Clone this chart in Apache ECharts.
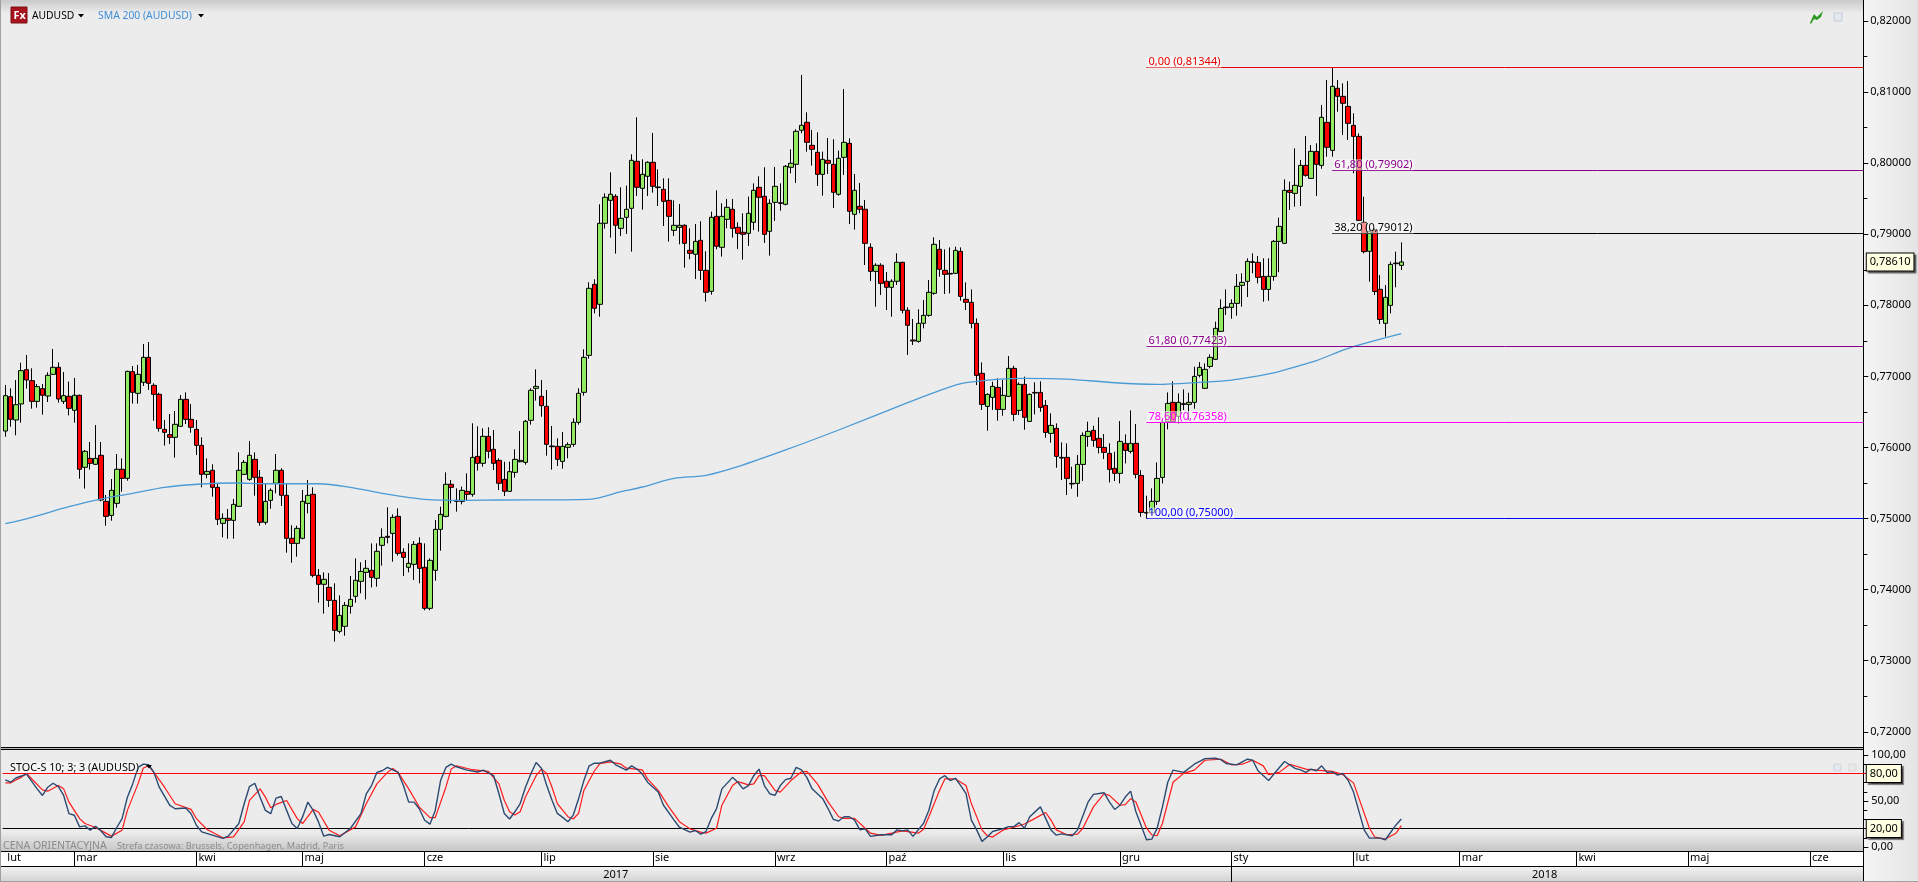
<!DOCTYPE html>
<html><head><meta charset="utf-8">
<script src="https://cdn.jsdelivr.net/npm/echarts@6/dist/echarts.min.js"></script>
<style>
html,body{margin:0;padding:0;width:1918px;height:882px;overflow:hidden;background:#ececec}
#stage{position:absolute;left:0;top:0;width:1918px;height:882px;
background:
 linear-gradient(#c9c9c9,#ececec) 0 0/1863px 13px no-repeat,
 linear-gradient(#ececec,#c6c6c6) 0 832px/1863px 19px no-repeat,
 linear-gradient(#f3f3f3,#d2d2d2) 0 866px/1863px 16px no-repeat,
 linear-gradient(90deg,#f5f5f5,#e4e4e4) 1864px 0/54px 882px no-repeat,
 #ececec}
.b{position:absolute;background:#000}
#chart{position:absolute;left:0;top:0;width:1918px;height:882px}
</style></head><body>
<div id="stage">
<div style="position:absolute;left:0;top:851px;width:1863px;height:15px;background:#fff"></div>
<div style="position:absolute;left:0;top:747px;width:1863px;height:3px;background:#bbb"></div>
<div class="b" style="left:0;top:747px;width:1863px;height:1px"></div>
<div class="b" style="left:0;top:749px;width:1863px;height:1px"></div>
<div class="b" style="left:0;top:851px;width:1863px;height:1px"></div>
<div class="b" style="left:0;top:866px;width:1863px;height:1px"></div>
<div class="b" style="left:1863px;top:0;width:1px;height:882px"></div>
<div style="position:absolute;left:0;top:0;width:1px;height:882px;background:#a0a0a0"></div>
<div style="position:absolute;left:0;top:881px;width:1918px;height:1px;background:#a0a0a0"></div>
<div id="chart"></div>
</div>
<script>
const monthNames = ['sty','lut','mar','kwi','maj','cze','lip','sie','wrz','paź','lis','gru'];
const categories = [];
for (let t = Date.UTC(2017,1,10); categories.length < 351; t += 86400000) {
  const d = new Date(t);
  if (d.getUTCDay() !== 0 && d.getUTCDay() !== 6) categories.push(d.toISOString().slice(0,10));
}
const opens = [.76232,.76715,.76387,.76612,.77095,.76940,.76649,.76828,.76724,.77029,
.77128,.76649,.76720,.76523,.76734,.75721,.75847,.75763,.75890,.75242,
.75045,.75214,.75693,.75566,.77067,.76762,.76917,.77268,.76874,.76748,
.76255,.76180,.76143,.76298,.76677,.76396,.76255,.76030,.75622,.75679,
.75439,.74933,.75003,.74975,.75172,.75622,.75552,.75833,.75580,.74947,
.75256,.75496,.75679,.75327,.74722,.74651,.74722,.75214,.75341,.74201,
.74075,.74032,.73849,.73413,.73484,.73765,.73906,.74117,.74243,.74272,
.74159,.74623,.74750,.74792,.75031,.74525,.74314,.74356,.74651,.74314,
.73737,.74272,.74848,.75031,.75482,.75256,.75242,.75383,.75341,.75875,
.75777,.76157,.75974,.75819,.75552,.75383,.75650,.75800,.75791,.76382,
.76832,.76720,.76579,.76021,.76016,.75805,.76002,.76044,.76354,.76776,
.77296,.78295,.78014,.79154,.79477,.79534,.79083,.79238,.79365,.80026,
.79646,.79815,.80012,.79665,.79632,.79477,.79055,.79097,.79126,.78774,
.78718,.78915,.78492,.78197,.79252,.78816,.79210,.79351,.79097,.79027,
.79013,.79168,.79660,.79534,.79041,.79449,.79444,.79421,.79942,.79984,
.80462,.80575,.80251,.80153,.79843,.80040,.79984,.79562,.80082,.80279,
.79280,.79393,.79351,.78816,.78478,.78563,.78338,.78253,.78338,.78605,
.77930,.77512,.77493,.77747,.77859,.78169,.78788,.78492,.78450,.78450,
.78759,.78084,.78042,.77746,.77043,.76578,.76705,.76846,.76536,.76719,
.77113,.76522,.76888,.76367,.76775,.76775,.76592,.76198,.76269,.75861,
.75861,.75495,.75495,.75762,.76156,.76241,.76128,.76001,.75917,.75706,
.75636,.76058,.75945,.76058,.75607,.75087,.75082,.75242,.75579,.76363,
.76635,.76438,.76616,.76606,.76635,.77014,.76832,.77141,.77240,.77634,
.77976,.77971,.78027,.78281,.78337,.78614,.78604,.78407,.78224,.78407,
.78900,.78872,.79618,.79575,.79674,.79969,.79786,.80166,.79969,.80574,
.80180,.81053,.80940,.80799,.80532,.80377,.79167,.78759,.79059,.78225,
.77746,.77999,.78595,.78562];
const closes = [.76729,.76396,.76602,.77081,.76949,.76649,.76856,.76734,.77015,.77128,
.76682,.76729,.76551,.76734,.75693,.75946,.75777,.75847,.75261,.75031,
.75397,.75693,.75566,.77071,.76776,.77029,.77268,.76903,.76748,.76269,
.76213,.76143,.76326,.76677,.76396,.76284,.76030,.75622,.75664,.75439,
.74989,.75003,.74975,.75200,.75679,.75791,.75890,.75580,.74947,.75242,
.75397,.75679,.75327,.74722,.74651,.74862,.75242,.75327,.74201,.74075,
.74145,.73849,.73427,.73638,.73779,.73863,.74131,.74257,.74300,.74173,
.74539,.74736,.74736,.75017,.74511,.74454,.74370,.74637,.74300,.73737,
.74412,.74848,.75059,.75482,.75439,.75242,.75397,.75341,.75861,.75777,
.76157,.75946,.75777,.75496,.75383,.75660,.75833,.75819,.76368,.76804,
.76860,.76588,.76044,.76011,.75833,.76016,.76040,.76354,.76762,.77268,
.78239,.77958,.79154,.79520,.79562,.79126,.79224,.79351,.80040,.79660,
.79843,.80012,.79674,.79656,.79463,.79252,.79126,.79126,.78872,.78732,
.78900,.78492,.78183,.79238,.78830,.79252,.79379,.79083,.79013,.78999,
.79294,.79618,.79520,.78999,.79435,.79674,.79435,.79956,.79998,.80448,
.80533,.80293,.80195,.79843,.80054,.79998,.79590,.80068,.80293,.79323,
.79618,.79351,.78872,.78478,.78563,.78309,.78253,.78338,.78605,.77930,
.77719,.77498,.77747,.77859,.78183,.78858,.78506,.78436,.78440,.78773,
.78126,.78042,.77746,.77014,.76606,.76747,.76860,.76536,.76733,.77113,
.76466,.76888,.76424,.76747,.76766,.76564,.76212,.76311,.75875,.75851,
.75565,.75486,.75762,.76170,.76227,.76100,.76001,.75931,.75692,.75636,
.76086,.75959,.76058,.75622,.75087,.75077,.75242,.75565,.76353,.76620,
.76363,.76635,.76606,.76635,.77000,.77127,.77099,.77268,.77676,.77957,
.77967,.78027,.78267,.78323,.78618,.78604,.78393,.78224,.78407,.78900,
.79111,.79618,.79589,.79688,.79969,.79829,.80166,.79983,.80645,.80223,
.81081,.80940,.80842,.80560,.80377,.79195,.78755,.79036,.78196,.77802,
.78112,.78576,.78586,.78610];
const lows = [.76152,.76293,.76171,.76349,.76828,.76546,.76560,.76462,.76640,.77020,
.76631,.76612,.76452,.76349,.75561,.75421,.75688,.75754,.75242,.74900,
.74970,.75153,.75378,.75533,.76617,.76617,.76865,.76809,.76377,.76223,
.76026,.76049,.75857,.76293,.76330,.76208,.75894,.75439,.75566,.75308,
.74909,.74736,.74717,.74717,.75167,.75613,.75533,.75322,.74900,.74914,
.75139,.75355,.75177,.74520,.74379,.74464,.74708,.75073,.74173,.73817,
.73662,.73756,.73268,.73385,.73352,.73662,.73817,.73948,.73863,.74032,
.74042,.74337,.74651,.74393,.74478,.74192,.74243,.74135,.74089,.73709,
.73709,.74126,.74548,.75017,.75214,.75097,.75200,.75261,.75308,.75674,
.75730,.75847,.75683,.75402,.75317,.75374,.75575,.75791,.75758,.76321,
.76659,.76433,.75885,.75688,.75739,.75702,.75847,.76011,.76321,.76729,
.77250,.77887,.77840,.79079,.78952,.78727,.78975,.79004,.78755,.79538,
.79346,.79538,.79585,.79398,.79116,.78896,.78975,.78858,.78530,.78647,
.78370,.78356,.78052,.78150,.78788,.78685,.79083,.78952,.78793,.78642,
.78835,.79060,.79036,.78877,.78699,.79187,.79332,.79407,.79857,.79721,
.80420,.80162,.79965,.79679,.79543,.79848,.79369,.79543,.79834,.79144,
.79065,.79294,.78567,.78342,.77981,.78145,.77934,.77840,.78286,.77887,
.77301,.77442,.77475,.77676,.77840,.78150,.78403,.78159,.78168,.78440,
.78065,.77934,.77676,.76878,.76527,.76236,.76527,.76377,.76447,.76714,
.76372,.76456,.76250,.76358,.76466,.76503,.76137,.76067,.75715,.75542,
.75331,.75420,.75307,.75528,.76011,.76011,.75917,.75837,.75509,.75528,
.75495,.75776,.75917,.75565,.75026,.75000,.75072,.75190,.75495,.76255,
.76353,.76339,.76527,.76386,.76545,.76986,.76822,.77113,.77230,.77624,
.77863,.77812,.77854,.77981,.78117,.78450,.78309,.78051,.78065,.78346,
.78466,.78862,.79341,.79388,.79397,.79810,.79777,.79538,.79922,.80091,
.80091,.80724,.80396,.80326,.79857,.79191,.78731,.78332,.78145,.77737,
.77559,.77887,.78253,.78497];
const highs = [.76879,.76832,.76949,.77193,.77301,.77114,.76893,.76893,.77057,.77386,
.77198,.77062,.76926,.76978,.76745,.75965,.76077,.76316,.76077,.75331,
.75557,.75908,.75847,.77080,.77146,.77161,.77456,.77484,.76903,.76771,
.76387,.76471,.76513,.76738,.76776,.76612,.76387,.76143,.75847,.75763,
.75496,.75073,.75134,.75275,.75932,.75824,.76091,.75932,.75683,.75496,
.75425,.75908,.75707,.75496,.74905,.74900,.75402,.75542,.75439,.74290,
.74243,.74234,.74089,.73920,.73826,.74192,.74440,.74384,.74417,.74651,
.74651,.74862,.75158,.75059,.75144,.74581,.74651,.74684,.74736,.74651,
.74440,.74980,.75167,.75650,.75542,.75425,.75449,.75636,.76340,.76298,
.76269,.76284,.76246,.75847,.75800,.75800,.75974,.76232,.76387,.76832,
.77099,.76949,.76809,.76302,.76129,.76218,.76072,.76410,.76832,.77381,
.78324,.78366,.79421,.79576,.79871,.79562,.79660,.79684,.80125,.80645,
.80054,.80026,.80425,.79913,.79787,.79787,.79477,.79426,.79140,.79083,
.79144,.79182,.78760,.79318,.79618,.79435,.79496,.79496,.79168,.79294,
.79529,.79716,.79815,.79942,.79491,.79946,.79716,.79974,.80195,.80476,
.81240,.80715,.80467,.80434,.80162,.80354,.80336,.80176,.81043,.80350,
.79848,.79721,.79482,.78872,.78591,.78591,.78469,.78366,.78732,.78614,
.77972,.77808,.77944,.78075,.78356,.78957,.78919,.78787,.78815,.78825,
.78815,.78323,.78224,.77816,.77197,.76761,.76925,.76972,.76949,.77286,
.77150,.76916,.76996,.76761,.76916,.76930,.76667,.76480,.76339,.76072,
.76058,.75729,.75894,.76212,.76363,.76306,.76424,.76189,.76058,.75940,
.76372,.76184,.76522,.76330,.75682,.75321,.75425,.75790,.76409,.76775,
.76930,.76761,.76817,.76771,.77136,.77202,.77183,.77310,.77770,.78084,
.78224,.78084,.78440,.78450,.78661,.78731,.78693,.78661,.78661,.78919,
.79233,.79772,.79739,.80208,.80044,.80382,.80255,.80279,.80818,.81170,
.81344,.81170,.81123,.81156,.80701,.80419,.79528,.79106,.79083,.78426,
.78286,.78614,.78755,.78886];
const smaIdx = [0,5,12,18,24,30,37,43,49,59,65,71,79,87,93,110,116,120,126,132,138,147,157,170,176,181,192,200,209,217,225,231,238,244,247,253,263];
const smaVal = [.74928,.75018,.75167,.75275,.75355,.7544,.75486,.755,.7549,.7549,.7544,.75355,.75271,.75257,.75261,.75271,.75378,.75444,.75566,.75608,.7573,.75965,.76246,.7663,.768,.76911,.76973,.76963,.76911,.76889,.76917,.76949,.77034,.77156,.77221,.77395,.77601];
const kIdx = [0,1,2,4,6,7,8,9,10,11,12,13,14,15,16,17,18,19,20,21,22,23,24,25,26,27,28,29,31,32,34,35,36,37,39,41,42,44,45,46,47,48,49,50,51,52,53,54,55,56,57,58,59,60,61,63,65,67,68,69,70,71,72,74,75,76,77,78,79,80,81,82,83,84,85,87,89,90,92,93,94,95,96,97,98,99,100,101,102,103,104,105,106,107,108,109,110,111,112,114,115,117,118,119,120,121,123,124,126,127,129,130,131,132,133,134,135,137,138,139,140,141,142,143,144,145,146,147,148,149,150,151,152,154,155,156,157,158,159,160,161,162,163,165,167,168,169,170,171,173,174,175,176,177,178,179,180,181,182,183,184,185,186,188,189,190,191,192,193,195,196,197,198,199,201,202,204,205,207,208,209,210,211,212,213,215,216,217,218,219,220,222,224,226,228,229,230,232,234,235,236,238,239,241,243,244,245,246,247,248,249,250,251,252,253,254,256,257,259,260,262,263];
const kVal = [72.9,70.4,75,79.3,63.2,56,65,69.3,65.7,56,36.2,34.5,21.9,23,18.3,22.6,17.6,11.1,10.4,21.2,30.9,54.2,68.6,86.5,90.1,89.4,81.1,65,45.2,41.6,42.4,36.2,23.7,16.5,12.9,9.3,11.8,25.5,47,65.7,69.3,54.2,39.8,36.2,53.1,54.9,39.8,25.5,20.1,32.7,48.8,39.8,27.3,11.8,13.6,11.1,20.1,36.2,57.8,66.8,81.1,82.9,86.5,81.1,66.8,48.8,48.8,41.6,29.1,24.8,39.8,72.2,86.5,90.1,87.2,83.6,81.5,83.6,77.5,57.9,36.5,30.4,38.3,47.2,65,79.3,91.8,85.7,66.8,50.7,36.5,32.2,27.5,34.7,52.5,72.2,88.2,91.1,91.1,94.3,89.3,83.6,88.2,84.7,79.3,70.4,59.7,45.4,29.3,21.5,16.1,17.9,14,16.8,31.1,41.8,63.2,75.7,70.4,63.2,66.8,77.5,84.7,66.8,57.9,56.1,66.8,73.2,74.7,86.5,83.9,75.7,63.2,52.5,41.8,30,28.3,32.9,32.9,29.3,18.6,19.7,11.5,13.3,13.3,18.6,17.5,18.6,11.5,25.8,40,61.5,74,77.5,72.2,74.7,66.8,57.9,29.3,18.6,6.1,10.8,16.8,20,22.2,22.2,26.5,20.4,32.9,43.6,31.1,18.6,12.9,14.3,12.2,18.6,49,57.2,59,49,40.8,45.4,54.3,60.7,38.3,7.9,8.6,20.4,43.6,70.4,83.6,81.1,90,96.1,96.5,95,90.7,89.3,95.4,94.3,82.9,72.2,79.3,92.9,85.4,83.9,81.1,84.7,82.9,88.2,81.1,81.8,78.2,80,72.2,59.7,18.6,9.7,9.7,7.9,24,30.4];
const dIdx = [0,1,2,3,4,5,7,8,10,11,12,14,15,17,20,22,23,25,26,27,28,30,32,35,36,38,41,43,45,46,48,49,50,51,53,55,56,58,59,61,63,66,68,70,72,73,74,76,78,80,81,83,84,85,88,91,93,94,95,96,97,98,100,101,102,103,104,106,107,108,109,111,112,114,116,117,120,121,123,125,127,129,131,132,134,135,137,138,140,141,142,143,145,146,148,150,151,153,155,157,158,160,163,165,167,169,172,173,174,176,177,179,181,182,184,185,186,188,190,192,194,196,197,198,200,202,203,205,207,208,210,211,212,213,215,216,217,218,220,222,224,226,229,231,233,235,237,238,240,242,245,247,250,252,254,257,258,260,262,263];
const dVal = [69.6,69.6,72.9,75.7,80,73.9,62.1,60.7,66.8,63.2,48.8,30.9,25.5,21.2,11.8,18.3,39.8,68.6,85.8,88.3,81.1,65,47,40.9,30.9,19,10,11.1,27.3,50.6,63.2,54.2,42.7,46.3,50.6,30.9,25.5,40.9,38,18.3,12.2,21.9,47,68.6,81.1,85.4,81.1,63.2,43.4,31.9,31.9,65,84.7,88.3,84,82.2,68.6,50.8,38.3,34.7,38.3,54.3,77.5,84.7,80,65,47.2,32.9,30.4,36.5,61.5,82.9,90.7,92.5,90,85.7,83.9,74,61.5,43.6,27.5,19.7,16.1,15.1,20.4,45.4,66.8,71.1,67.5,68.6,77.5,77.5,61.5,59.7,72.2,81.8,82.2,68.6,49,32.9,31.1,31.1,15,12.6,15,17.5,15,19.3,32.9,61.5,74,74,66.8,47.2,18.6,12.2,10.8,18.6,21.5,25,31.1,37.5,29.3,18.6,13.3,14,20.4,43.6,57.9,56.1,45.4,46.1,52.5,49,20.4,13.3,12.2,25.8,70.4,80,83.6,94.3,95.4,89.3,90,94.3,88.2,78.6,81.1,90,84.7,83.6,82.2,78.6,69.7,20.4,10.8,8.6,15,23.3];
const fibStart = [215,215,215,215,250,250];
const fibLevels = [.81344,.77423,.76358,.75,.79902,.79012];
const fibTexts = ['0,00 (0,81344)','61,80 (0,77423)','78,60 (0,76358)','100,00 (0,75000)','61,80 (0,79902)','38,20 (0,79012)'];
const fibColors = ['#e60000','#8b008b','#ff00ff','#0000ff','#8b008b','#000000'];
const lastPrice = .7861;

const FONT = '"Noto Sans", sans-serif';
const candleData = opens.map((o,i)=>[o,closes[i],lows[i],highs[i]]);
const isMonthStart = i => i===0 || categories[i].slice(5,7)!==categories[i-1].slice(5,7);
const isYearStart = i => i>0 && categories[i].slice(0,4)!==categories[i-1].slice(0,4);
const tag = {show:true,position:'end',distance:1,fontFamily:FONT,fontSize:11,color:'#000',backgroundColor:'#ffffe1',
  borderColor:'#000',borderWidth:1,padding:[3,3,3,3],shadowColor:'rgba(0,0,0,.5)',shadowOffsetX:2,shadowOffsetY:2,shadowBlur:1};
const commonX = {type:'category',data:categories,boundaryGap:true};
const tri = (x,y)=>({type:'polygon',z:50,shape:{points:[[x,y],[x+6,y],[x+3,y+3.5]]},style:{fill:'#000'}});
const txt = (x,y,text,fill,size,extra)=>({type:'text',z:50,x,y,style:Object.assign({text,fill,font:`${size}px ${FONT}`,textVerticalAlign:'middle'},extra||{})});

const chart = echarts.init(document.getElementById('chart'),null,{renderer:'canvas'});
chart.setOption({
  animation:false,
  backgroundColor:'transparent',
  grid:[
    {left:2.65,right:52.24,top:21,height:710.8},
    {left:2.65,right:52.24,top:755,height:92},
    {left:2.65,right:52.24,top:851,height:15}
  ],
  xAxis:[
    Object.assign({},commonX,{gridIndex:0,show:false}),
    Object.assign({},commonX,{gridIndex:1,show:false}),
    Object.assign({},commonX,{gridIndex:2,position:'bottom',axisLine:{show:false},
      axisTick:{show:true,inside:true,length:15,alignWithLabel:true,lineStyle:{color:'#000'},interval:i=>i>0&&isMonthStart(i)},
      axisLabel:{inside:true,margin:3,align:'left',padding:[0,0,0,2],color:'#000',fontFamily:FONT,fontSize:11,
        interval:i=>isMonthStart(i),formatter:v=>monthNames[+v.slice(5,7)-1]}}),
    Object.assign({},commonX,{gridIndex:2,position:'bottom',axisLine:{show:false},
      axisTick:{show:true,length:16,alignWithLabel:true,lineStyle:{color:'#000'},interval:i=>isYearStart(i)},
      axisLabel:{margin:3,color:'#000',fontFamily:FONT,fontSize:11,interval:i=>i===115||i===290,formatter:v=>v.slice(0,4)}})
  ],
  yAxis:[
    {type:'value',gridIndex:0,position:'right',offset:-2.46,min:.72,max:.82,interval:.01,scale:true,splitLine:{show:false},
      axisLine:{show:true,lineStyle:{color:'#000'}},axisTick:{show:true,length:5,lineStyle:{color:'#000'}},
      minorTick:{show:true,splitNumber:2,length:4,lineStyle:{color:'#000'}},
      axisLabel:{margin:7,color:'#000',fontFamily:FONT,fontSize:11,padding:[2,0,0,0],formatter:v=>v.toFixed(5).replace('.',',')}},
    {type:'value',gridIndex:1,position:'right',offset:-2.46,min:0,max:100,interval:50,splitLine:{show:false},
      axisLine:{show:true,lineStyle:{color:'#000'}},axisTick:{show:true,length:5,lineStyle:{color:'#000'}},
      minorTick:{show:true,splitNumber:5,length:4,lineStyle:{color:'#000'}},
      axisLabel:{margin:8,color:'#000',fontFamily:FONT,fontSize:11,padding:[2,0,0,0],formatter:v=>v.toFixed(2).replace('.',',')}},
    {type:'value',gridIndex:2,show:false}
  ],
  series:[
    {type:'candlestick',name:'AUDUSD',xAxisIndex:0,yAxisIndex:0,data:candleData,barWidth:5,z:3,
      itemStyle:{color:'#92ea62',color0:'#ff0000',borderColor:'#000',borderColor0:'#000',borderWidth:1}},
    {type:'line',name:'SMA 200',xAxisIndex:0,yAxisIndex:0,data:smaIdx.map((x,i)=>[x,smaVal[i]]),smooth:.3,showSymbol:false,symbol:'none',z:4,
      lineStyle:{color:'#4a9ad6',width:1.3}},
    {type:'line',name:'fib',xAxisIndex:0,yAxisIndex:0,data:[],z:5,
      markLine:{silent:true,symbol:'none',z:6,precision:5,
        data:fibLevels.map((lvl,i)=>[
          {coord:[fibStart[i],lvl],lineStyle:{color:fibColors[i],width:1,type:'solid'},
           label:{show:true,position:'insideStartTop',distance:[1,0],formatter:fibTexts[i],color:fibColors[i],fontFamily:FONT,fontSize:11,
                  backgroundColor:'rgba(255,255,255,.55)',padding:[0,1,0,1]}},
          {coord:[350,lvl]}
        ]).concat([{yAxis:lastPrice,lineStyle:{color:'rgba(0,0,0,0)',width:1,type:'solid'},label:Object.assign({},tag,{formatter:'0,78610'})}])}},
    {type:'line',name:'%D',xAxisIndex:1,yAxisIndex:1,data:dIdx.map((x,i)=>[x,dVal[i]]),showSymbol:false,symbol:'none',z:3,lineStyle:{color:'#ff1a1a',width:1.2}},
    {type:'line',name:'%K',xAxisIndex:1,yAxisIndex:1,data:kIdx.map((x,i)=>[x,kVal[i]]),showSymbol:false,symbol:'none',z:4,lineStyle:{color:'#2b4a72',width:1.4},
      markLine:{silent:true,symbol:'none',z:2,
        data:[
          {yAxis:80,lineStyle:{color:'#ff0000',width:1,type:'solid'},label:Object.assign({},tag,{formatter:'80,00'})},
          {yAxis:20,lineStyle:{color:'#000',width:1,type:'solid'},label:Object.assign({},tag,{formatter:'20,00'})}
        ]}}
  ],
  graphic:[
    {type:'rect',z:50,shape:{x:11,y:7,width:16,height:16},style:{fill:'#a8141e',stroke:'#7a0f15',lineWidth:1}},
    txt(13.5,15.5,'Fx','#fff',11,{font:`bold 11px ${FONT}`}),
    txt(32,16,'AUDUSD','#000',10.3),
    tri(78,14),
    txt(98,16,'SMA 200 (AUDUSD)','#3f8fd8',10.4),
    tri(198,14),
    {type:'polygon',z:50,shape:{points:[[1810,23],[1814,14],[1817,17],[1823,11],[1821,17],[1817,20],[1814,19],[1811,24]]},style:{fill:'#2a9a20'}},
    {type:'rect',z:50,shape:{x:1834,y:13,width:8,height:8},style:{fill:'#e4e8f0',stroke:'#c4ccd8',lineWidth:1}},
    {type:'rect',z:50,shape:{x:1834,y:764,width:7,height:7},style:{fill:'#e4e8f0',stroke:'#d0d4dc',lineWidth:1}},
    {type:'rect',z:50,shape:{x:1849,y:764,width:7,height:7},style:{fill:'#e8e8e8',stroke:'#d8d8d8',lineWidth:1}},
    txt(10,767.5,'STOC-S 10; 3; 3 (AUDUSD)','#000',10.8,{backgroundColor:'rgba(255,255,255,.45)'}),
    tri(146,765),
    txt(3,846,'CENA ORIENTACYJNA','#8c8c8c',10.5),
    txt(117,846,'Strefa czasowa: Brussels, Copenhagen, Madrid, Paris','#8c8c8c',9.2)
  ]
});
</script>
</body></html>
